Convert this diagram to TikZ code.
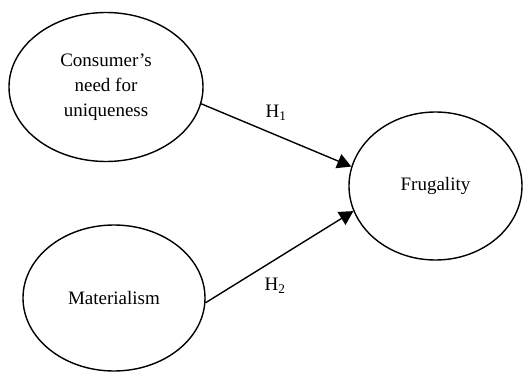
\documentclass[tikz,border=0pt]{standalone}
\usepackage{fontspec}
\setmainfont{Liberation Serif}
\usetikzlibrary{shapes.geometric,arrows.meta}
\begin{document}
\begin{tikzpicture}[x=1pt,y=-1pt,
  construct/.style={draw,ellipse,line width=1.4pt,inner sep=0pt,align=center,
    font=\fontsize{19}{25}\selectfont},
  path/.style={line width=1.4pt,-{Triangle[length=14pt,width=15pt]}},
  hyp/.style={font=\fontsize{19}{25}\selectfont,inner sep=0pt}]
\useasboundingbox (0,0) rectangle (523,372);
\node[construct,minimum width=194pt,minimum height=149pt] (u) at (106,87) {Consumer's\\need for\\uniqueness};
\node[construct,minimum width=182pt,minimum height=146pt] (m) at (114,298) {Materialism};
\node[construct,minimum width=173pt,minimum height=148pt] (f) at (435.5,186) {Frugality};
\draw[path] (u.-10.5) -- (f.167.8);
\draw[path] (m.-3.8) -- (f.197.8);
\node[hyp] (h1) at (276,113) {H\textsubscript{1}};
\node[hyp] (h2) at (275,286) {H\textsubscript{2}};
\end{tikzpicture}
\end{document}
